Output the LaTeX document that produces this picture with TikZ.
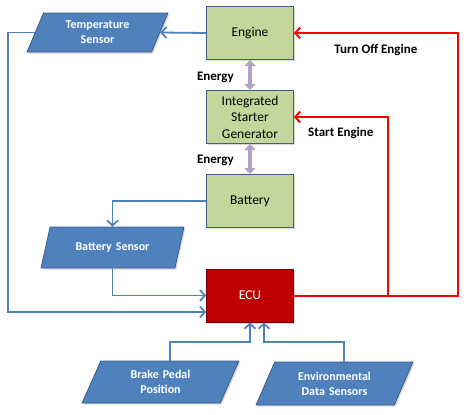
\documentclass[tikz,border=0pt]{standalone}
\usepackage{fontspec}
\setmainfont{Carlito}
\usepackage{tikz}
\usetikzlibrary{shapes.geometric, arrows.meta, shadows, positioning}
\definecolor{sensorblue}{HTML}{4F81BD}
\definecolor{sensoredge}{HTML}{385D8A}
\definecolor{blockgreen}{HTML}{C3D69B}
\definecolor{blockedge}{HTML}{3F5F86}
\definecolor{ecured}{HTML}{C00000}
\definecolor{energylilac}{HTML}{B3A2C7}
\tikzstyle{sensor} = [trapezium, trapezium left angle = 58, trapezium right angle = 122,
trapezium stretches = true, minimum width = 146pt, minimum height = 40pt, inner sep = 1pt,
text centered, text width = 100pt, draw = sensoredge, line width = 0.8pt, fill = sensorblue,
text = white, font = \fontsize{12}{15}\selectfont\bfseries,
drop shadow = {shadow xshift = 1.5pt, shadow yshift = -1.5pt, opacity = 0.3}]
\tikzstyle{block} = [rectangle, minimum width = 84pt, minimum height = 53pt, text centered,
text width = 80pt, draw = blockedge, line width = 1pt, fill = blockgreen,
font = \fontsize{13.5}{16.5}\selectfont,
drop shadow = {shadow xshift = 1.5pt, shadow yshift = -1.5pt, opacity = 0.3}]
\tikzstyle{ecu} = [block, fill = ecured, draw = ecured!60!black, text = white]
\tikzstyle{arrow} = [line width = 1.8pt, draw = sensorblue, -{Straight Barb[length = 5pt, width = 11pt]}]
\tikzstyle{redarrow} = [line width = 2pt, draw = red, -{Straight Barb[length = 5pt, width = 11pt]}]
\tikzstyle{energy} = [line width = 4pt, draw = energylilac, {Triangle[length = 6pt, width = 11pt]}-{Triangle[length = 6pt, width = 11pt]}]
\tikzstyle{label} = [font = \fontsize{13}{15}\selectfont\bfseries]
\begin{document}
\begin{tikzpicture} [x = 1pt, y = -1pt, node distance = 84pt]
\useasboundingbox (0,0) rectangle (474,415);
\node (engine) [block] at (250,33) {Engine};
\node (isg) [block, below of = engine] {Integrated Starter Generator};
\node (battery) [block, below of = isg] {Battery};
\node (ecu) [ecu, below of = battery, node distance = 94.5pt] {ECU};

\node (temp) [sensor, minimum width = 141pt, minimum height = 39pt] at (97.5,32.5) {Temperature Sensor};
\node (bsensor) [sensor, minimum width = 143pt, minimum height = 41pt] at (112.5,247.5) {Battery Sensor};
\node (brake) [sensor, minimum width = 157pt, minimum height = 42pt] at (160.5,382) {Brake Pedal Position};
\node (envdata) [sensor, minimum width = 157pt, minimum height = 43pt] at (334.5,383.5) {Environmental Data Sensors};

\draw[energy] (engine.south) -- node[label, left = 11pt, yshift = -2pt] {Energy} (isg.north);
\draw[energy] (isg.south) -- node[label, left = 11pt, yshift = -1pt] {Energy} (battery.north);

\draw[arrow] (engine.west) -- (temp.right side);
\draw[arrow] (temp.left side) -- ++(-27,0) |- ([yshift = -16.5pt]ecu.west);
\draw[arrow] (battery.west) -| (bsensor.north);
\draw[arrow] (bsensor.south) |- (ecu.west);
\draw[arrow] (brake.top side) -- ++(0,-19) -| (ecu.south);
\draw[arrow] (envdata.top side) -- ++(0,-20) -| ([xshift = 14pt]ecu.south);

\draw[redarrow] (ecu.east) -- ++(94,0) |- node[label, pos = 0.75, below = 6pt] {Start Engine} (isg.east);
\draw[redarrow] (ecu.east) -- ++(164,0) |- node[label, pos = 0.75, below = 7pt] {Turn Off Engine} (engine.east);
\end{tikzpicture}
\end{document}
